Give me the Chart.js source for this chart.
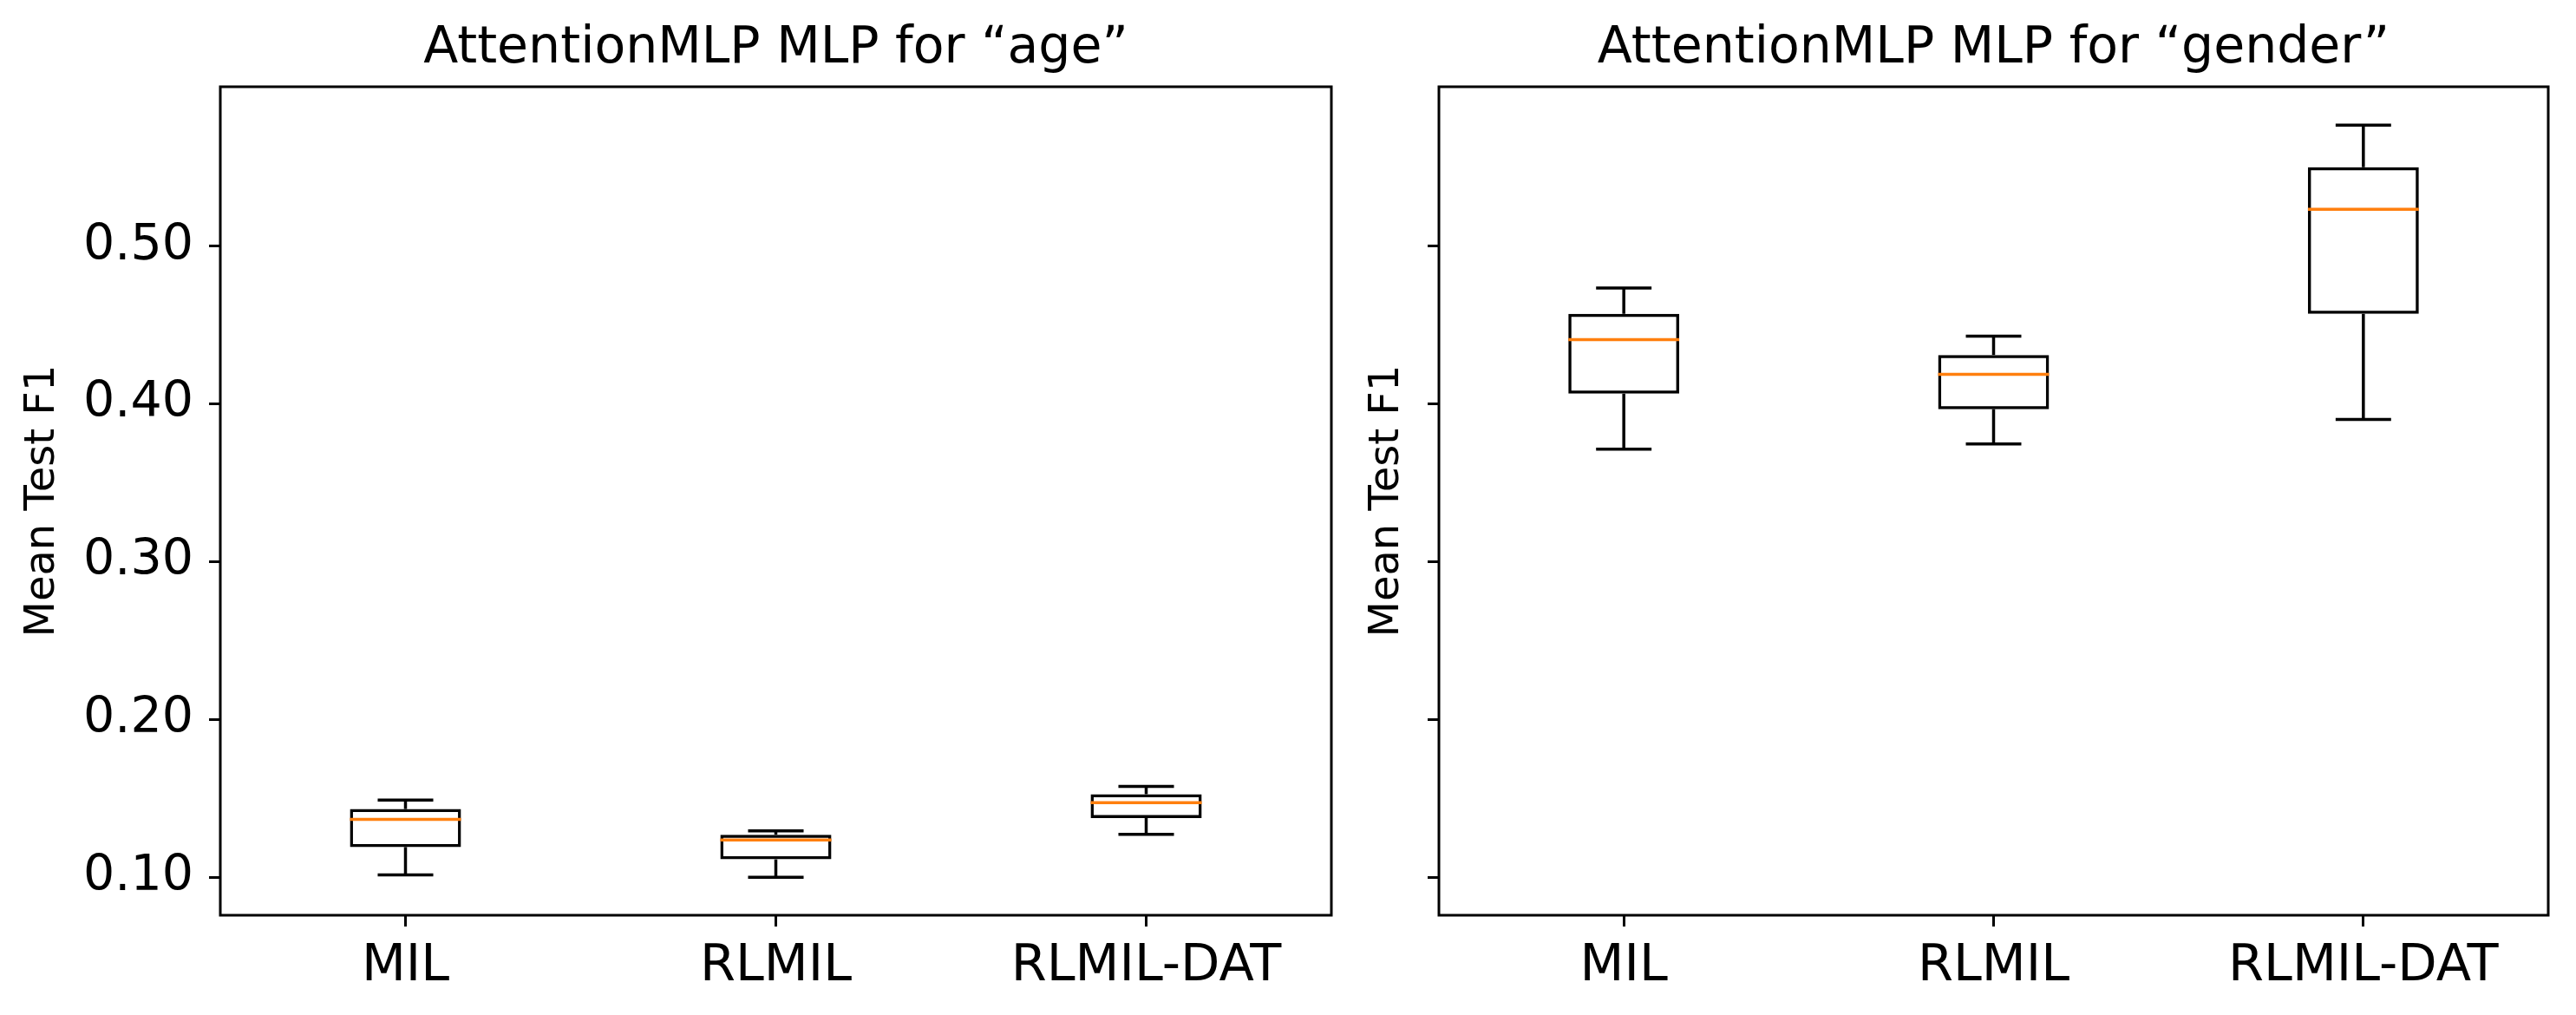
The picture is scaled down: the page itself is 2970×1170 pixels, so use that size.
<!DOCTYPE html>
<html>
<head>
<meta charset="utf-8">
<script src="https://cdn.jsdelivr.net/npm/chart.js@4.4.1/dist/chart.umd.min.js"></script>
<style>
  html, body { margin: 0; padding: 0; background: #fff; }
  #wrap { position: relative; width: 2970px; height: 1170px; overflow: hidden; }
  canvas { position: absolute; top: 0; }
</style>
</head>
<body>
<div id="wrap">
  <canvas id="ageChart" width="1560" height="1170" style="left:0px"></canvas>
  <canvas id="genderChart" width="1410" height="1170" style="left:1560px"></canvas>
</div>
<script>
const categories = ['MIL', 'RLMIL', 'RLMIL-DAT'];

// "age" boxes (whisker low, q1, median, q3, whisker high)
const ageLow    = [0.1016, 0.1000, 0.1273];
const ageQ1     = [0.1192, 0.1114, 0.1376];
const ageMedian = [0.1367, 0.1237, 0.1473];
const ageQ3     = [0.1433, 0.1270, 0.1527];
const ageHigh   = [0.1490, 0.1294, 0.1576];

// "gender" boxes
const genderLow    = [0.3714, 0.3747, 0.3902];
const genderQ1     = [0.4065, 0.3967, 0.4571];
const genderMedian = [0.4408, 0.4188, 0.5233];
const genderQ3     = [0.4571, 0.4310, 0.5500];
const genderHigh   = [0.4735, 0.4429, 0.5767];

const yTicks = [0.10, 0.20, 0.30, 0.40, 0.50];
const yMin = 0.076;
const yMax = 0.601;

const FONT = "'DejaVu Sans', sans-serif";

// whiskers, caps, medians and the frame, drawn from the chart scales
const boxParts = {
    id: 'boxParts',
    afterDatasetsDraw(chart, args, opts) {
        const ctx = chart.ctx;
        const x = chart.scales.x, y = chart.scales.y;
        const meta = chart.getDatasetMeta(0);
        function seg(x1, y1, x2, y2, color) {
            ctx.strokeStyle = color;
            ctx.beginPath();
            ctx.moveTo(x1, y1);
            ctx.lineTo(x2, y2);
            ctx.stroke();
        }
        ctx.save();
        ctx.lineWidth = 3.5;
        ctx.lineCap = 'butt';
        meta.data.forEach((bar, i) => {
            const cx = x.getPixelForValue(i);
            const half = bar.width / 2;
            const cap = bar.width / 4;
            const yLo = y.getPixelForValue(opts.low[i]);
            const yQ1 = y.getPixelForValue(opts.q1[i]);
            const yQ3 = y.getPixelForValue(opts.q3[i]);
            const yHi = y.getPixelForValue(opts.high[i]);
            const yMed = y.getPixelForValue(opts.median[i]);
            seg(cx, yQ1, cx, yLo, '#000');
            seg(cx, yQ3, cx, yHi, '#000');
            seg(cx - cap, yLo, cx + cap, yLo, '#000');
            seg(cx - cap, yHi, cx + cap, yHi, '#000');
            seg(cx - half, yMed, cx + half, yMed, '#ff7f0e');
        });
        const a = chart.chartArea;
        ctx.lineWidth = 3;
        ctx.strokeStyle = '#000';
        ctx.strokeRect(a.left, a.top, a.right - a.left, a.bottom - a.top);
        ctx.restore();
    }
};

function makeChart(id, title, low, q1, median, q3, high, showLabels, yWidth, padRight, ylabelPad) {
    const boxes = q1.map((v, i) => [v, q3[i]]);
    return new Chart(document.getElementById(id), {
        type: 'bar',
        data: {
            labels: categories,
            datasets: [{
                data: boxes,
                backgroundColor: 'rgba(255,255,255,0)',
                borderColor: '#000',
                borderWidth: 3.5,
                borderSkipped: false,
                barPercentage: 0.3,
                categoryPercentage: 1.0
            }]
        },
        plugins: [boxParts],
        options: {
            responsive: false,
            devicePixelRatio: 1,
            animation: false,
            layout: { padding: { left: 0, right: padRight, top: 0, bottom: 0 } },
            plugins: {
                legend: { display: false },
                tooltip: { enabled: false },
                title: {
                    display: true,
                    text: title,
                    fullSize: false,
                    color: '#000',
                    font: { family: FONT, size: 58.5, weight: 'normal' },
                    padding: { top: 22, bottom: 7.8 }
                },
                boxParts: { low: low, q1: q1, median: median, q3: q3, high: high }
            },
            scales: {
                x: {
                    type: 'category',
                    offset: true,
                    grid: { offset: false, drawOnChartArea: false, drawTicks: true, tickLength: 13, tickWidth: 3, tickColor: '#000' },
                    border: { display: false },
                    ticks: { color: '#000', padding: 11, font: { family: FONT, size: 59 }, maxRotation: 0 },
                    afterFit: s => { s.height = 115; }
                },
                y: {
                    min: yMin,
                    max: yMax,
                    grid: { drawOnChartArea: false, drawTicks: true, tickLength: 13, tickWidth: 3, tickColor: '#000' },
                    border: { display: false },
                    afterBuildTicks: s => { s.ticks = yTicks.map(v => ({ value: v })); },
                    ticks: {
                        color: '#000',
                        padding: 18,
                        font: { family: FONT, size: 57 },
                        callback: v => showLabels ? Number(v).toFixed(2) : ''
                    },
                    title: {
                        display: true,
                        text: 'Mean Test F1',
                        color: '#000',
                        font: { family: FONT, size: 48 },
                        padding: { top: ylabelPad, bottom: 0 }
                    },
                    afterFit: s => { s.width = yWidth; }
                }
            }
        }
    });
}

makeChart('ageChart', 'AttentionMLP MLP for \u201cage\u201d',
    ageLow, ageQ1, ageMedian, ageQ3, ageHigh, true, 254, 25, 21);
makeChart('genderChart', 'AttentionMLP MLP for \u201cgender\u201d',
    genderLow, genderQ1, genderMedian, genderQ3, genderHigh, false, 99, 32, 11);
</script>
</body>
</html>
